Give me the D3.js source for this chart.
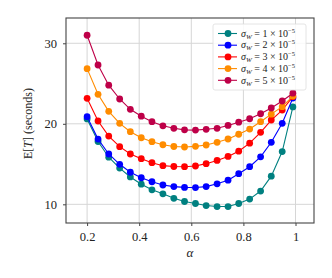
<!DOCTYPE html>
<html>
<head>
<meta charset="utf-8">
<script src="https://cdn.jsdelivr.net/npm/d3@7"></script>
<style>
  body { margin: 0; background: #fff; }
  text { font-family: "Liberation Serif", "Times New Roman", serif; fill: #222; }
</style>
</head>
<body>
<script>
var svgWidth = 332;
var svgHeight = 278;

var alpha = [0.2, 0.242, 0.283, 0.325, 0.366, 0.408, 0.449, 0.491, 0.533, 0.574,
             0.616, 0.657, 0.699, 0.741, 0.782, 0.824, 0.866, 0.907, 0.949, 0.99];

var sigma1 = [20.6, 17.8, 15.85, 14.5, 13.4, 12.5, 11.8, 11.3, 10.75, 10.35,
              10.1, 9.85, 9.72, 9.72, 10.1, 10.65, 11.65, 13.5, 16.55, 22.1];
var sigma2 = [20.88, 18.1, 16.25, 14.97, 13.98, 13.3, 12.8, 12.4, 12.2, 12.1,
              12.08, 12.2, 12.55, 13.0, 13.8, 14.67, 15.9, 17.7, 20.06, 23.2];
var sigma3 = [23.17, 20.35, 18.48, 17.16, 16.25, 15.67, 15.17, 14.8, 14.7, 14.67,
              14.76, 15.05, 15.45, 15.95, 16.6, 17.6, 18.94, 20.47, 21.7, 23.37];
var sigma4 = [26.85, 23.66, 21.55, 20.06, 19.02, 18.27, 17.78, 17.4, 17.18, 17.12,
              17.2, 17.37, 17.7, 18.11, 18.7, 19.35, 20.26, 21.2, 22.13, 23.45];
var sigma5 = [31.0, 27.3, 24.8, 23.08, 21.8, 20.95, 20.26, 19.75, 19.44, 19.25,
              19.22, 19.32, 19.44, 19.8, 20.2, 20.63, 21.25, 21.96, 22.83, 23.8];

var legendDigits = ["1", "2", "3", "4", "5"];
var xTicks = [0.2, 0.4, 0.6, 0.8, 1];
var yTicks = [10, 20, 30];

var series = [
    {digit: legendDigits[0], values: sigma1, color: "#008080"},
    {digit: legendDigits[1], values: sigma2, color: "#0000ff"},
    {digit: legendDigits[2], values: sigma3, color: "#ff0000"},
    {digit: legendDigits[3], values: sigma4, color: "#ff8c00"},
    {digit: legendDigits[4], values: sigma5, color: "#be0048"}
];

var chartMargin = {top: 18, right: 18, bottom: 55, left: 66};
var chartWidth = svgWidth - chartMargin.left - chartMargin.right;
var chartHeight = svgHeight - chartMargin.top - chartMargin.bottom;

var svg = d3.select("body")
            .append("svg")
            .attr("width", svgWidth)
            .attr("height", svgHeight);

var chartGroup = svg.append("g")
                    .attr("transform", `translate(${chartMargin.left}, ${chartMargin.top})`);

var xScale = d3.scaleLinear().domain([0.119, 1.071]).range([0, chartWidth]);
var yScale = d3.scaleLinear().domain([7.68, 33.14]).range([chartHeight, 0]);

// grid
chartGroup.append("g").selectAll("line").data(xTicks).enter().append("line")
          .attr("x1", d => xScale(d)).attr("x2", d => xScale(d))
          .attr("y1", 0).attr("y2", chartHeight)
          .attr("stroke", "#d6d6d6").attr("stroke-width", 1);
chartGroup.append("g").selectAll("line").data(yTicks).enter().append("line")
          .attr("y1", d => yScale(d)).attr("y2", d => yScale(d))
          .attr("x1", 0).attr("x2", chartWidth)
          .attr("stroke", "#d6d6d6").attr("stroke-width", 1);

var xAxis = chartGroup.append("g")
                      .attr("transform", `translate(0, ${chartHeight})`)
                      .call(d3.axisBottom(xScale).tickValues(xTicks).tickSize(3).tickPadding(6)
                              .tickFormat(d3.format("")));
var yAxis = chartGroup.append("g")
                      .call(d3.axisLeft(yScale).tickValues(yTicks).tickSize(3).tickPadding(6));

[xAxis, yAxis].forEach(ax => {
    ax.attr("font-family", null);
    ax.select(".domain").remove();
    ax.selectAll(".tick line").attr("stroke", "#444");
    ax.selectAll(".tick text").style("font-size", "12.5px").attr("fill", "#222");
});

// frame
chartGroup.append("rect")
          .attr("width", chartWidth).attr("height", chartHeight)
          .attr("fill", "none").attr("stroke", "#444").attr("stroke-width", 1.1);

var line = d3.line()
             .x((d, i) => xScale(alpha[i]))
             .y(d => yScale(d));

series.forEach(s => {
    chartGroup.append("path")
              .datum(s.values)
              .attr("d", line)
              .attr("fill", "none")
              .attr("stroke", s.color)
              .attr("stroke-width", 1.1);
    chartGroup.append("g").selectAll("circle").data(s.values).enter().append("circle")
              .attr("cx", (d, i) => xScale(alpha[i]))
              .attr("cy", d => yScale(d))
              .attr("r", 3.4)
              .attr("fill", s.color);
});

// legend
var legend = chartGroup.append("g").attr("transform", "translate(147, 6)");
legend.append("rect")
      .attr("width", 93).attr("height", 66).attr("rx", 2)
      .attr("fill", "#fff").attr("fill-opacity", 0.85)
      .attr("stroke", "#ddd").attr("stroke-width", 0.8);

series.forEach((s, i) => {
    var row = legend.append("g").attr("transform", `translate(0, ${9.5 + i * 11.7})`);
    row.append("line").attr("x1", 5).attr("x2", 24).attr("y1", 0).attr("y2", 0)
       .attr("stroke", s.color).attr("stroke-width", 1.1);
    row.append("circle").attr("cx", 15).attr("cy", 0).attr("r", 3.4).attr("fill", s.color);
    var t = row.append("text").attr("x", 28).attr("y", 3.2).style("font-size", "10px");
    t.append("tspan").style("font-style", "italic").text("σ");
    t.append("tspan").style("font-style", "italic").style("font-size", "7px").attr("dy", 2).text("W");
    t.append("tspan").attr("dy", -2).text(` = ${s.digit} × 10`);
    t.append("tspan").style("font-size", "6.5px").attr("dy", -4).text("−5");
});

// axis labels
chartGroup.append("text")
          .attr("x", chartWidth / 2).attr("y", chartHeight + 34)
          .attr("text-anchor", "middle")
          .style("font-size", "13px").style("font-style", "italic")
          .text("α");

var yLabel = chartGroup.append("text")
          .attr("transform", "rotate(-90)")
          .attr("x", -chartHeight / 2 - 3).attr("y", -34)
          .attr("text-anchor", "middle")
          .style("font-size", "12px");
yLabel.append("tspan").text("E[");
yLabel.append("tspan").style("font-style", "italic").text("T");
yLabel.append("tspan").text("] (seconds)");
</script>
</body>
</html>
